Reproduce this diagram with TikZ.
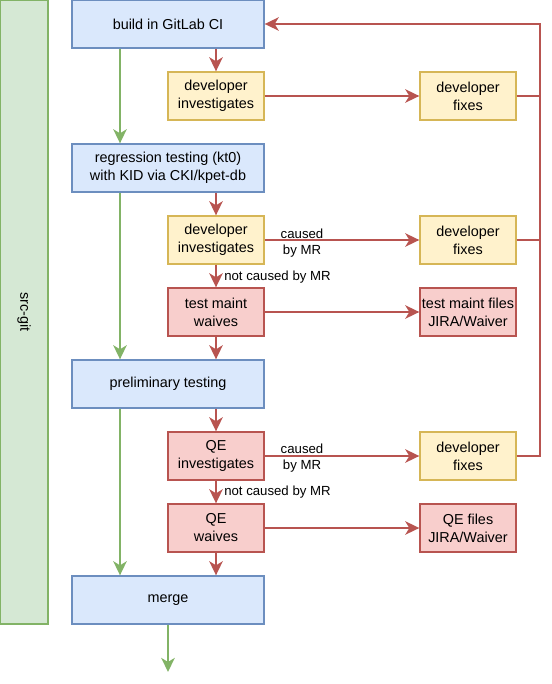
\documentclass[tikz,border=0pt]{standalone}
\usepackage{fontspec}
\setmainfont{Liberation Sans}
\usetikzlibrary{arrows.meta,positioning,calc}
\definecolor{blueline}{HTML}{6C8EBF}
\definecolor{bluefill}{HTML}{DAE8FC}
\definecolor{yellowline}{HTML}{D6B656}
\definecolor{yellowfill}{HTML}{FFF2CC}
\definecolor{redline}{HTML}{B85450}
\definecolor{redfill}{HTML}{F8CECC}
\definecolor{greenline}{HTML}{82B366}
\definecolor{greenfill}{HTML}{D5E8D4}

\begin{document}
\begin{tikzpicture}[x=0.75pt,y=-0.75pt,
    every node/.style={font=\fontsize{10.8}{13.5}\selectfont,align=center,inner sep=0pt},
    box/.style={line width=1pt,minimum width=72pt,minimum height=36pt},
    widebox/.style={box,draw=blueline,fill=bluefill,minimum width=144pt},
    yellowbox/.style={box,draw=yellowline,fill=yellowfill},
    redbox/.style={box,draw=redline,fill=redfill},
    lbl/.style={font=\fontsize{9.9}{12}\selectfont},
    redline/.style={draw=redline,line width=2.2pt},
    redarrow/.style={redline,-{Stealth[length=10.5pt,width=10pt,inset=3pt]}},
    greenarrow/.style={draw=greenline,line width=2.2pt,-{Stealth[length=10.5pt,width=10pt,inset=3pt]}}]
    \useasboundingbox (0,0) rectangle (552,684);
    % side lane
    \node[draw=greenline,fill=greenfill,line width=1pt,minimum width=36pt,minimum height=468pt] (git) at (24,312) {};
    \node[rotate=-90] (gitlabel) at (24,312) {src-git};
    % main flow
    \node[widebox] (build) at (168,24) {build in GitLab CI};
    \node[widebox] (regr) at (168,168) {regression testing (kt0)\\with KID via CKI/kpet-db};
    \node[widebox] (prelim) at (168,384) {preliminary testing};
    \node[widebox] (merge) at (168,600) {merge};
    \coordinate (out) at (168,672);
    \coordinate (lane) at (120,0);
    % investigation steps
    \node[yellowbox] (inv1) at (216,96) {developer\\investigates};
    \node[yellowbox] (fix1) at (468,96) {developer\\fixes};
    \node[yellowbox] (inv2) at (216,240) {developer\\investigates};
    \node[yellowbox] (fix2) at (468,240) {developer\\fixes};
    \node[redbox] (tmwaive) at (216,312) {test maint\\waives};
    \node[redbox] (tmfile) at (468,312) {test maint files\\JIRA/Waiver};
    \node[redbox] (qeinv) at (216,456) {QE\\investigates};
    \node[yellowbox] (fix3) at (468,456) {developer\\fixes};
    \node[redbox] (qewaive) at (216,528) {QE\\waives};
    \node[redbox] (qefile) at (468,528) {QE files\\JIRA/Waiver};
    \coordinate (back) at (540,24);
    % green path
    \draw[greenarrow] (build.south -| lane) -- (regr.north -| lane);
    \draw[greenarrow] (regr.south -| lane) -- (prelim.north -| lane);
    \draw[greenarrow] (prelim.south -| lane) -- (merge.north -| lane);
    \draw[greenarrow] (merge.south) -- (out);
    % red path
    \draw[redarrow] (build.south -| inv1) -- (inv1);
    \draw[redarrow] (regr.south -| inv2) -- (inv2);
    \draw[redarrow] (inv2) -- (tmwaive);
    \draw[redarrow] (tmwaive) -- (prelim.north -| tmwaive);
    \draw[redarrow] (prelim.south -| qeinv) -- (qeinv);
    \draw[redarrow] (qeinv) -- (qewaive);
    \draw[redarrow] (qewaive) -- (merge.north -| qewaive);
    \draw[redarrow] (inv1) -- (fix1);
    \draw[redarrow] (inv2) -- (fix2);
    \draw[redarrow] (tmwaive) -- (tmfile);
    \draw[redarrow] (qeinv) -- (fix3);
    \draw[redarrow] (qewaive) -- (qefile);
    \draw[redarrow] (fix3.east) -| (back) -- (build.east);
    \draw[redline] (fix1.east) -- (fix1.east -| back);
    \draw[redline] (fix2.east) -- (fix2.east -| back);
    % edge labels
    \node[lbl] (c1) at (302,243) {caused\\by MR};
    \node[lbl,anchor=west] (n1) at (224,277) {not caused by MR};
    \node[lbl] (c2) at (302,458) {caused\\by MR};
    \node[lbl,anchor=west] (n2) at (224,492) {not caused by MR};
\end{tikzpicture}
\end{document}
